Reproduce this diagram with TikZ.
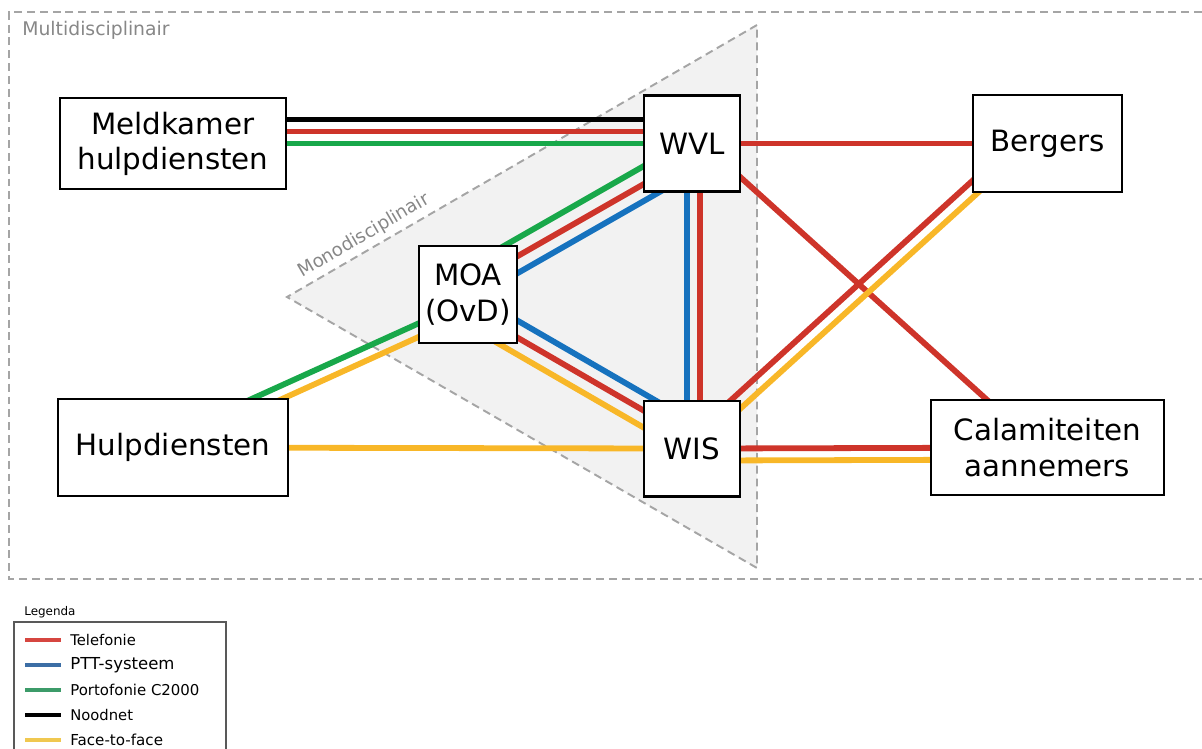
\documentclass[tikz,border=0pt]{standalone}
\usepackage{fontspec}
\setmainfont{DejaVu Sans}
\usetikzlibrary{positioning,calc}

\definecolor{telred}{RGB}{206,52,42}
\definecolor{pttblue}{RGB}{22,114,190}
\definecolor{portgreen}{RGB}{24,168,74}
\definecolor{facegold}{RGB}{248,183,40}
\definecolor{zonegray}{RGB}{165,165,165}
\definecolor{zonefill}{RGB}{242,242,242}
\definecolor{labelgray}{RGB}{135,135,135}
\definecolor{legred}{RGB}{214,70,64}
\definecolor{legblue}{RGB}{60,110,165}
\definecolor{leggreen}{RGB}{60,155,105}
\definecolor{leggold}{RGB}{240,200,80}

\pgfdeclarelayer{bg}
\pgfdeclarelayer{lines}
\pgfsetlayers{bg,lines,main}

\begin{document}
\begin{tikzpicture}[%
	x=0.02cm,
	y=-0.02cm,
	every text node part/.style={align=center},
	box/.style={%
		rectangle,
		draw,
		line width=1.2pt,
		fill=white,
		inner sep=0pt,
		font=\fontsize{16.7}{20}\selectfont
	},
	link/.style={%
		line width=3.3pt
	},
	tel/.style={link, draw=telred},
	ptt/.style={link, draw=pttblue},
	c2000/.style={link, draw=portgreen},
	nood/.style={link, draw=black},
	f2f/.style={link, draw=facegold},
	zone/.style={%
		draw=zonegray,
		line width=1.1pt,
		dash pattern=on 4.5pt off 2.8pt
	},
	zonelabel/.style={%
		text=labelgray,
		inner sep=0pt
	}
	]

	\useasboundingbox (0,0) rectangle (1202,749);

	\node[box, minimum width=4.52cm, minimum height=1.82cm] (meld) at (173,143.5) {Meldkamer\\hulpdiensten};
	\node[box, minimum size=1.92cm] (wvl) [right=7.12cm of meld] {WVL};
	\node[box, minimum width=2.98cm, minimum height=1.94cm] (bergers) [right=4.62cm of wvl] {Bergers};
	\node[box, minimum width=4.6cm, minimum height=1.94cm] (hulp) [below=4.16cm of meld] {Hulpdiensten};
	\node[box, minimum size=1.92cm] (wis) [below=4.14cm of wvl] {WIS};
	\node[box, minimum width=4.66cm, minimum height=1.9cm] (cal) [below=4.12cm of bergers] {Calamiteiten\\aannemers};
	\node[box, minimum width=1.96cm, minimum height=1.94cm] (moa) at (468,294.5) {MOA\\(OvD)};

	% zones
	\begin{pgfonlayer}{bg}
	\draw[zone] (1202,12) -- (9,12) -- (9,579) -- (1202,579);
	\path[zone, fill=zonefill] (757,25) -- (287,297) -- (757,568) -- cycle;
	\end{pgfonlayer}
	\node[zonelabel, anchor=west, font=\fontsize{10.7}{12}\selectfont] (multi) at (22,30) {Multidisciplinair};
	\node[zonelabel, rotate=30.3, font=\fontsize{10.4}{12}\selectfont] (mono) at (364,236) {Monodisciplinair};

	% verbindingen
	\begin{pgfonlayer}{lines}
	\draw[nood]  ($(meld)+(0,-24)$) -- ($(wvl)+(0,-24)$);
	\draw[tel]   ($(meld)+(0,-12)$) -- ($(wvl)+(0,-12)$);
	\draw[c2000] (meld) -- (wvl);
	\draw[tel] (wvl) -- (bergers);
	\draw[tel] ($(wvl)+(0,-10)$) -- ($(cal)+(0,7)$);
	\draw[tel] ($(wis)+(0,-13)$) -- ($(bergers)+(0,-31)$);
	\draw[f2f] ($(wis)+(0,4)$) -- ($(bergers)+(0,-14)$);
	\draw[tel] (wis) -- (cal);
	\draw[f2f] ($(wis)+(0,12)$) -- ($(cal)+(0,12)$);
	\draw[ptt] ($(wvl)+(-5,0)$) -- ($(wis)+(-5,0)$);
	\draw[tel] ($(wvl)+(8,0)$) -- ($(wis)+(8,0)$);
	\draw[c2000] ($(moa)+(0,-28)$) -- ($(wvl)+(0,-5)$);
	\draw[tel]   ($(moa)+(0,-10)$) -- ($(wvl)+(0,13)$);
	\draw[ptt]   ($(moa)+(0,7)$) -- ($(wvl)+(0,30)$);
	\draw[ptt]   ($(moa)+(0,-2.5)$) -- ($(wis)+(0,-27)$);
	\draw[tel]   ($(moa)+(0,14.5)$) -- ($(wis)+(0,-10)$);
	\draw[f2f]   ($(moa)+(0,31.5)$) -- ($(wis)+(0,7)$);
	\draw[c2000] ($(hulp)+(0,-13)$) -- ($(moa)+(0,6.5)$);
	\draw[f2f]   ($(hulp)+(0,1)$) -- ($(moa)+(0,20)$);
	\draw[f2f] (hulp) -- (wis);
	\end{pgfonlayer}

	% legenda
	\node[anchor=west, inner sep=0pt, font=\fontsize{6.8}{8}\selectfont] (legtitle) at (24,612) {Legenda};
	\draw[draw=black!65, line width=0.8pt] (14,760) -- (14,622) -- (226,622) -- (226,760);
	\foreach \col/\fs/\txt [count=\i from 0] in {%
		legred/8.4/Telefonie,
		legblue/9.4/PTT-systeem,
		leggreen/8.5/Portofonie C2000,
		black/8.4/Noodnet,
		leggold/8.6/Face-to-face} {
		\coordinate (sw\i) at (25,640+25*\i);
		\draw[draw=\col, line width=2.2pt] (sw\i) -- ++(36,0);
		\node[anchor=west, inner sep=0pt, font=\fontsize{\fs}{10}\selectfont] (leg\i) at (70,640+25*\i) {\txt};
	}
\end{tikzpicture}
\end{document}
